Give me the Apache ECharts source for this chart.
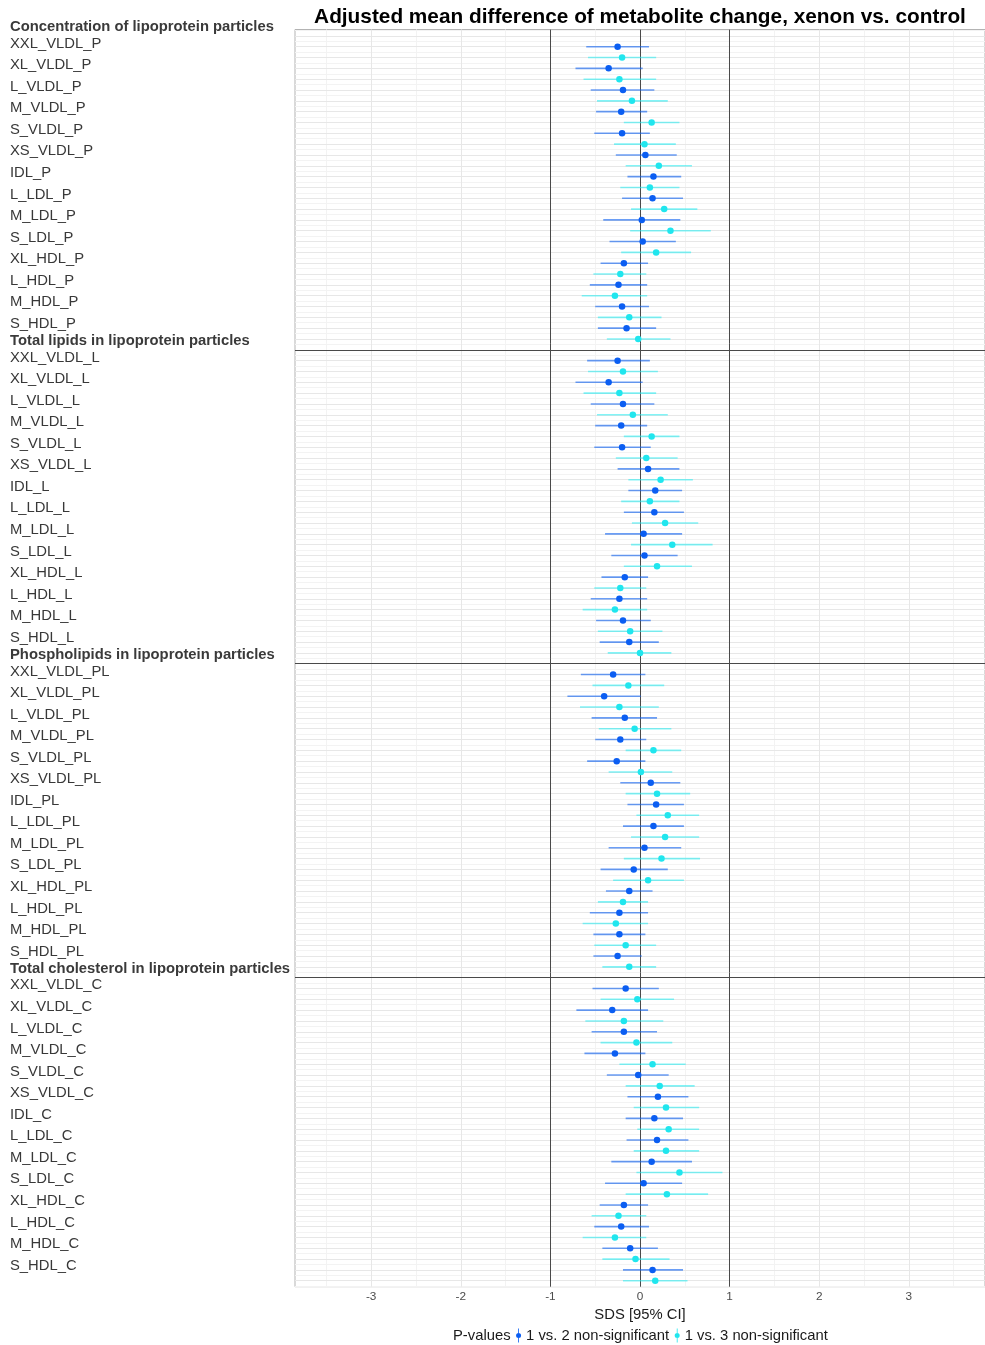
<!DOCTYPE html>
<html>
<head>
<meta charset="utf-8">
<script src="https://cdn.jsdelivr.net/npm/echarts@6/dist/echarts.min.js"></script>
<style>
  html, body { margin: 0; padding: 0; background: #ffffff; }
  #chart { width: 985px; height: 1345px; }
</style>
</head>
<body>
<div id="chart"></div>
<script>
// Lipoprotein subclasses, top to bottom within each block
const subclasses = ['XXL_VLDL', 'XL_VLDL', 'L_VLDL', 'M_VLDL', 'S_VLDL', 'XS_VLDL', 'IDL',
  'L_LDL', 'M_LDL', 'S_LDL', 'XL_HDL', 'L_HDL', 'M_HDL', 'S_HDL'];
// Measure blocks: heading and the suffix of the variable names
const blockTitles = ['Concentration of lipoprotein particles', 'Total lipids in lipoprotein particles',
  'Phospholipids in lipoprotein particles', 'Total cholesterol in lipoprotein particles'];
const blockSuffixes = ['P', 'L', 'PL', 'C'];
const xTicks = [-3, -2, -1, 0, 1, 2, 3];
const seriesNames = ['1 vs. 2 non-significant', '1 vs. 3 non-significant'];

// [estimate, lower 95% CI, upper 95% CI] in SDS
const particlesVs2 = [[-0.25,-0.60,0.10],[-0.35,-0.72,0.03],[-0.19,-0.55,0.16],[-0.21,-0.49,0.08],[-0.20,-0.51,0.11],
  [0.06,-0.27,0.41],[0.15,-0.14,0.46],[0.14,-0.20,0.48],[0.02,-0.41,0.45],[0.03,-0.34,0.40],
  [-0.18,-0.44,0.09],[-0.24,-0.56,0.08],[-0.20,-0.50,0.10],[-0.15,-0.47,0.18]];
const particlesVs3 = [[-0.20,-0.58,0.18],[-0.23,-0.63,0.18],[-0.09,-0.48,0.31],[0.13,-0.18,0.44],[0.05,-0.29,0.40],
  [0.21,-0.16,0.58],[0.11,-0.22,0.44],[0.27,-0.10,0.64],[0.34,-0.11,0.79],[0.18,-0.21,0.57],
  [-0.22,-0.52,0.07],[-0.28,-0.65,0.08],[-0.12,-0.47,0.24],[-0.02,-0.37,0.34]];
const lipidsVs2 = [[-0.25,-0.59,0.11],[-0.35,-0.72,0.03],[-0.19,-0.55,0.16],[-0.21,-0.50,0.08],[-0.20,-0.51,0.12],
  [0.09,-0.25,0.44],[0.17,-0.13,0.47],[0.16,-0.18,0.49],[0.04,-0.39,0.47],[0.05,-0.32,0.42],
  [-0.17,-0.43,0.09],[-0.23,-0.55,0.08],[-0.19,-0.49,0.12],[-0.12,-0.45,0.21]];
const lipidsVs3 = [[-0.19,-0.58,0.20],[-0.23,-0.63,0.18],[-0.08,-0.48,0.31],[0.13,-0.18,0.44],[0.07,-0.27,0.42],
  [0.23,-0.13,0.59],[0.11,-0.21,0.44],[0.28,-0.09,0.65],[0.36,-0.10,0.81],[0.19,-0.18,0.58],
  [-0.22,-0.51,0.07],[-0.28,-0.64,0.08],[-0.11,-0.47,0.25],[0.00,-0.36,0.35]];
const phosphoVs2 = [[-0.30,-0.66,0.06],[-0.40,-0.81,0.01],[-0.17,-0.54,0.19],[-0.22,-0.50,0.07],[-0.26,-0.59,0.06],
  [0.12,-0.22,0.45],[0.18,-0.14,0.49],[0.15,-0.19,0.49],[0.05,-0.35,0.46],[-0.07,-0.44,0.31],
  [-0.12,-0.38,0.14],[-0.23,-0.56,0.09],[-0.23,-0.52,0.06],[-0.25,-0.52,0.02]];
const phosphoVs3 = [[-0.13,-0.53,0.27],[-0.23,-0.67,0.21],[-0.06,-0.46,0.35],[0.15,-0.16,0.46],[0.01,-0.35,0.36],
  [0.19,-0.16,0.56],[0.31,-0.04,0.66],[0.28,-0.10,0.66],[0.24,-0.18,0.67],[0.09,-0.30,0.49],
  [-0.19,-0.47,0.09],[-0.27,-0.64,0.09],[-0.16,-0.51,0.18],[-0.12,-0.42,0.18]];
const cholVs2 = [[-0.16,-0.53,0.21],[-0.31,-0.71,0.09],[-0.18,-0.54,0.19],[-0.28,-0.62,0.06],[-0.02,-0.37,0.32],
  [0.20,-0.14,0.54],[0.16,-0.16,0.48],[0.19,-0.15,0.54],[0.13,-0.32,0.58],[0.04,-0.39,0.47],
  [-0.18,-0.45,0.09],[-0.21,-0.51,0.10],[-0.11,-0.42,0.20],[0.14,-0.19,0.48]];
const cholVs3 = [[-0.03,-0.44,0.38],[-0.18,-0.61,0.26],[-0.04,-0.44,0.36],[0.14,-0.23,0.51],[0.22,-0.16,0.61],
  [0.29,-0.07,0.66],[0.32,-0.03,0.66],[0.29,-0.07,0.66],[0.44,-0.04,0.92],[0.30,-0.16,0.76],
  [-0.24,-0.54,0.07],[-0.28,-0.64,0.07],[-0.05,-0.42,0.33],[0.17,-0.19,0.53]];

const vs2Blocks = [particlesVs2, lipidsVs2, phosphoVs2, cholVs2];
const vs3Blocks = [particlesVs3, lipidsVs3, phosphoVs3, cholVs3];

// ---- layout ----
const FONT = '"Liberation Sans", Arial, Helvetica, sans-serif';
const GRID_TOP = 29.5, GRID_BOTTOM = 58.3, GRID_LEFT = 295;
const GRID_H = 1345 - GRID_TOP - GRID_BOTTOM;
const ROWS_PER_BLOCK = subclasses.length * 2;   // one row per comparison
const BLOCK_STEP = ROWS_PER_BLOCK + 1;          // plus a spacer row under the divider
const Y_MIN = -1.59, Y_MAX = 114.55;
const X_MIN = -3.85, X_MAX = 3.85;
const ROW_PX = GRID_H / (Y_MAX - Y_MIN);

const colors = {
  vs2: { point: '#0b5ef2', ci: 'rgba(16, 98, 240, 0.62)' },
  vs3: { point: '#20e6ee', ci: 'rgba(40, 236, 242, 0.58)' }
};

function rowOf(block, idx, cmp) { return block * BLOCK_STEP + idx * 2 + cmp; }

function pointData(blocks, cmp) {
  const out = [];
  blocks.forEach((rows, b) => rows.forEach((r, i) => out.push([r[0], rowOf(b, i, cmp)])));
  return out;
}
function ciData(blocks, cmp) {
  const out = [];
  blocks.forEach((rows, b) => rows.forEach((r, i) => out.push([r[1], r[2], rowOf(b, i, cmp)])));
  return out;
}

// background grid: major rules on every row / integer, minor rules halfway between
const majorRows = [], minorRows = [];
for (let v = Math.ceil(Y_MIN); v <= Y_MAX; v++) majorRows.push(v);
for (let v = Math.ceil(Y_MIN - 0.5) + 0.5; v <= Y_MAX; v++) minorRows.push(v);
const minorX = [xTicks[0] - 0.5];
xTicks.forEach(t => minorX.push(t + 0.5));

// block dividers sit on the spacer rows
const dividers = [];
for (let b = 1; b < blockTitles.length; b++) dividers.push(b * BLOCK_STEP - 1);

// left-hand label column, positioned in pixels from the plot top
const LABEL_PITCH = 21.55;
const LABEL_LIFT = 4.0;      // names sit slightly above their first row
const HEAD_LIFT = 20.2;      // headings sit above each block
const LABEL_DROP = 8.4;      // labels hang from their bottom edge
const labelEntries = [];
blockTitles.forEach((t, b) => {
  const firstRow = (rowOf(b, 0, 0) - Y_MIN) * ROW_PX;
  labelEntries.push({ pos: firstRow - HEAD_LIFT + LABEL_DROP, text: t, head: true });
  subclasses.forEach((s, i) => {
    labelEntries.push({ pos: firstRow - LABEL_LIFT + i * LABEL_PITCH + LABEL_DROP,
      text: s + '_' + blockSuffixes[b], head: false });
  });
});
const labelMap = new Map(labelEntries.map(e => [e.pos.toFixed(2), e]));

const keyIcon = 'path://M2.1,0 H2.9 V14 H2.1 Z M2.5,4.5 A2.5,2.5 0 1 1 2.4999,4.5 Z';

function ciSeries(name, blocks, cmp, color) {
  return {
    name: name, type: 'custom', xAxisIndex: 0, yAxisIndex: 0, z: 10, silent: true,
    data: ciData(blocks, cmp),
    encode: { x: [0, 1], y: 2 },
    renderItem: function (params, api) {
      const a = api.coord([api.value(0), api.value(2)]);
      const c = api.coord([api.value(1), api.value(2)]);
      return { type: 'line', shape: { x1: a[0], y1: a[1], x2: c[0], y2: c[1] },
        style: { stroke: color, lineWidth: 1.6 } };
    }
  };
}

function rules(name, z, color, xs, ys) {
  return {
    name: name, type: 'line', data: [], xAxisIndex: 0, yAxisIndex: 0, z: z,
    markLine: { silent: true, z: z, symbol: ['none', 'none'], label: { show: false },
      lineStyle: { color: color, width: 1, type: 'solid' },
      emphasis: { disabled: true }, animation: false,
      data: xs.map(v => ({ xAxis: v })).concat(ys.map(v => ({ yAxis: v }))) }
  };
}

const chart = echarts.init(document.getElementById('chart'), null, { renderer: 'canvas' });
chart.setOption({
  animation: false,
  backgroundColor: '#ffffff',
  textStyle: { fontFamily: FONT },
  grid: { left: GRID_LEFT, right: 0, top: GRID_TOP, bottom: GRID_BOTTOM, show: true,
    borderColor: '#b3b3b3', borderWidth: 1, containLabel: false, outerBoundsMode: 'none' },
  legend: {
    left: 438, top: 1323, itemGap: 5.5, itemWidth: 5, itemHeight: 14, selectedMode: false,
    textStyle: { fontSize: 14.8, color: '#1a1a1a', fontFamily: FONT },
    data: [{ name: 'P-values', icon: 'none' },
      { name: seriesNames[0], icon: keyIcon },
      { name: seriesNames[1], icon: keyIcon }]
  },
  xAxis: [
    { type: 'value', min: X_MIN, max: X_MAX, position: 'bottom',
      axisLine: { show: false },
      axisTick: { show: false },
      axisLabel: { customValues: xTicks, color: '#4d4d4d', fontSize: 11.8, margin: 4, fontFamily: FONT },
      splitLine: { show: false },
      name: 'SDS [95% CI]', nameLocation: 'middle', nameGap: 12,
      nameTextStyle: { fontSize: 14.8, color: '#1a1a1a', fontFamily: FONT } },
    { type: 'value', min: X_MIN, max: X_MAX, position: 'top',
      axisLine: { show: false }, axisTick: { show: false }, axisLabel: { show: false },
      splitLine: { show: false },
      name: 'Adjusted mean difference of metabolite change, xenon vs. control',
      nameLocation: 'middle', nameGap: 2,
      nameTextStyle: { fontSize: 20.8, fontWeight: 'bold', color: '#000000', fontFamily: FONT } }
  ],
  yAxis: [
    { type: 'value', inverse: true, min: Y_MIN, max: Y_MAX, position: 'left',
      axisLine: { show: false }, axisTick: { show: false }, axisLabel: { show: false },
      splitLine: { show: false } },
    { type: 'value', inverse: true, min: 0, max: GRID_H, position: 'left',
      axisLine: { show: false }, axisTick: { show: false }, splitLine: { show: false },
      axisLabel: {
        customValues: labelEntries.map(e => e.pos),
        align: 'left', verticalAlign: 'bottom', margin: GRID_LEFT - 10,
        fontSize: 14.8, color: '#383838', fontFamily: FONT,
        formatter: function (v) {
          const e = labelMap.get(Number(v).toFixed(2));
          if (!e) return '';
          return e.head ? '{h|' + e.text + '}' : e.text;
        },
        rich: { h: { fontWeight: 'bold', fontSize: 14.8, color: '#3a3a3a', fontFamily: FONT } }
      } }
  ],
  series: [
    { name: 'P-values', type: 'scatter', data: [], xAxisIndex: 0, yAxisIndex: 0 },
    rules('grid-minor', 0, '#f3f3f3', minorX, minorRows),
    rules('grid-major', 1, '#e7e7e7', xTicks, majorRows),
    rules('reference', 2, '#4a4a4a', [-1, 0, 1], dividers),
    ciSeries('ci-vs2', vs2Blocks, 0, colors.vs2.ci),
    ciSeries('ci-vs3', vs3Blocks, 1, colors.vs3.ci),
    { name: seriesNames[0], type: 'scatter', xAxisIndex: 0, yAxisIndex: 0, z: 12,
      symbolSize: 6.5, itemStyle: { color: colors.vs2.point, opacity: 1 },
      data: pointData(vs2Blocks, 0) },
    { name: seriesNames[1], type: 'scatter', xAxisIndex: 0, yAxisIndex: 0, z: 12,
      symbolSize: 6.5, itemStyle: { color: colors.vs3.point, opacity: 1 },
      data: pointData(vs3Blocks, 1) }
  ]
});
</script>
</body>
</html>
